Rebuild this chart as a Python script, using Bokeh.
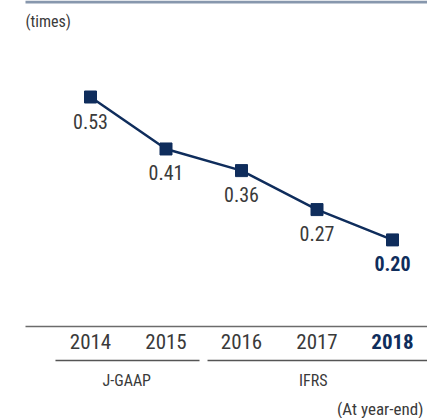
from bokeh.plotting import figure
from bokeh.models import Range1d, ColumnDataSource
from bokeh.core.properties import value
from bokeh.embed import file_html
from bokeh.resources import INLINE

years = ["2014", "2015", "2016", "2017", "2018"]
ratios = [0.53, 0.41, 0.36, 0.27, 0.20]
ratio_labels = ["0.53", "0.41", "0.36", "0.27", "0.20"]
groups = ["J-GAAP", "IFRS"]
unit_label = "(times)"
note_label = "(At year-end)"

FONT = "Liberation Sans Narrow, Roboto Condensed, DejaVu Sans Condensed, sans-serif"
NAVY = "#0f2d5c"
GRAY = "#3a3a3a"

W, H = 427, 418
px_x = 75.5   # pixels per category step
px_y = 433.0  # pixels per unit value
x0_px = 90    # pixel of first category
y0_px = 326   # pixel (from top) of value 0
xs = -x0_px / px_x
xe = xs + W / px_x
ye = y0_px / px_y
ys = ye - H / px_y

p = figure(width=W, height=H, output_backend="svg", toolbar_location=None,
           x_range=Range1d(xs, xe), y_range=Range1d(ys, ye), min_border=0,
           outline_line_color=None, background_fill_color="white")
p.axis.visible = False
p.grid.visible = False

idx = list(range(len(years)))
src = ColumnDataSource(dict(x=idx, y=ratios, lab=ratio_labels, yr=years))

# top rule
p.segment(x0=[xs + 25 / px_x], x1=[xe], y0=[ye - 1.5 / px_y], y1=[ye - 1.5 / px_y],
          line_color="#8797ad", line_width=3)
# baseline
p.segment(x0=[xs + 25 / px_x], x1=[xe], y0=[0], y1=[0], line_color="#6b6b6b", line_width=1.5)
# group rules
gy = -34 / px_y
p.segment(x0=[-0.464, 1.55], x1=[1.444, xe], y0=[gy, gy], y1=[gy, gy],
          line_color="#555555", line_width=1.5)

# line + markers
p.line("x", "y", source=src, line_color=NAVY, line_width=2.5)
p.scatter("x", "y", source=src, marker="square", size=12, fill_color=NAVY, line_color=NAVY)

# value labels
n = len(years)
p.text(x=idx[:-1], y=ratios[:-1], text=ratio_labels[:-1], y_offset=24, text_align="center",
       text_baseline="middle", text_font=value(FONT), text_font_size="20px", text_color=GRAY)
p.text(x=idx[-1:], y=ratios[-1:], text=ratio_labels[-1:], y_offset=24, text_align="center",
       text_baseline="middle", text_font=value(FONT), text_font_size="20px", text_color=NAVY,
       text_font_style="bold")

# year labels
p.text(x=idx[:-1], y=[0] * (n - 1), text=years[:-1], y_offset=15, text_align="center",
       text_baseline="middle", text_font=value(FONT), text_font_size="21px", text_color=GRAY)
p.text(x=idx[-1:], y=[0], text=years[-1:], y_offset=15, text_align="center",
       text_baseline="middle", text_font=value(FONT), text_font_size="21px", text_color=NAVY,
       text_font_style="bold")

# group labels
p.text(x=[0.48, 2.95], y=[0, 0], text=groups, y_offset=54, text_align="center",
       text_baseline="middle", text_font=value(FONT), text_font_size="16px", text_color=GRAY)

# unit and note
p.text(x=[xs + 25 / px_x], y=[ye - 21 / px_y], text=[unit_label], text_align="left",
       text_baseline="middle", text_font=value(FONT), text_font_size="16px", text_color=GRAY)
p.text(x=[xs + 423 / px_x], y=[ye - 408 / px_y], text=[note_label], text_align="right",
       text_baseline="middle", text_font=value(FONT), text_font_size="17px", text_color=GRAY)

open("out.html", "w").write(file_html(p, INLINE))
